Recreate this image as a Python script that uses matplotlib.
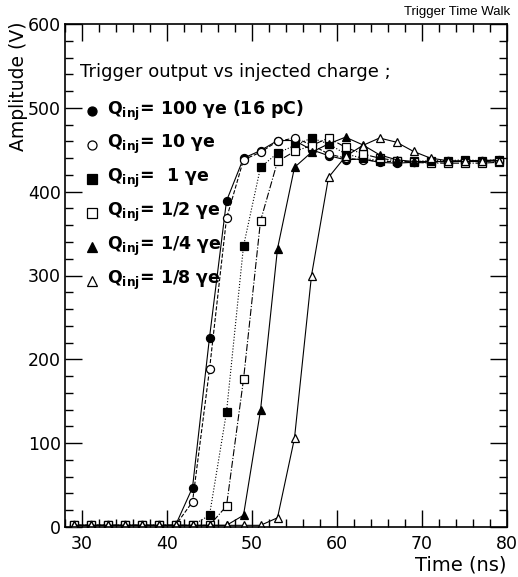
import matplotlib
matplotlib.use("Agg")
import matplotlib.pyplot as plt
from matplotlib.ticker import MultipleLocator

plt.rcParams['font.family'] = ['DejaVu Sans']
plt.rcParams['mathtext.fontset'] = 'dejavusans'

# Sampling times (ns)
time_ns = [29, 31, 33, 35, 37, 39, 41, 43, 45, 47, 49, 51, 53,
           55, 57, 59, 61, 63, 65, 67, 69, 71, 73, 75, 77, 79]

# Trigger output amplitude (V) for each injected charge
amp_100 = [2, 2, 2, 2, 2, 2, 2, 47, 226, 389, 440, 449, 461,
           461, 450, 443, 438, 439, 435, 434, 435, 436, 436, 437, 437, 438]
amp_10 = [2, 2, 2, 2, 2, 2, 2, 30, 188, 368, 438, 447, 460,
          464, 456, 445, 440, 438, 436, 436, 435, 435, 436, 436, 436, 437]
amp_1 = [2, 2, 2, 2, 2, 2, 2, 2, 14, 137, 335, 429, 446,
         455, 464, 457, 445, 440, 437, 436, 436, 437, 437, 438, 437, 438]
amp_1_2 = [2, 2, 2, 2, 2, 2, 2, 2, 2, 25, 176, 365, 436,
           448, 455, 464, 453, 445, 440, 437, 435, 434, 434, 434, 434, 435]
amp_1_4 = [2, 2, 2, 2, 2, 2, 2, 2, 2, 2, 14, 139, 332,
           429, 447, 457, 465, 456, 444, 438, 436, 436, 436, 436, 437, 437]
amp_1_8 = [2, 2, 2, 2, 2, 2, 2, 2, 2, 2, 2, 2, 11,
           106, 300, 417, 442, 455, 464, 459, 448, 440, 437, 436, 436, 437]

labels = [r"Q$_{\mathbf{inj}}$= 100 γe (16 pC)",
          r"Q$_{\mathbf{inj}}$= 10 γe",
          r"Q$_{\mathbf{inj}}$=  1 γe",
          r"Q$_{\mathbf{inj}}$= 1/2 γe",
          r"Q$_{\mathbf{inj}}$= 1/4 γe",
          r"Q$_{\mathbf{inj}}$= 1/8 γe"]

series = [amp_100, amp_10, amp_1, amp_1_2, amp_1_4, amp_1_8]
styles = [
    dict(marker='o', mfc='black', ls='-'),
    dict(marker='o', mfc='white', ls='--'),
    dict(marker='s', mfc='black', ls=':'),
    dict(marker='s', mfc='white', ls='-.'),
    dict(marker='^', mfc='black', ls='-'),
    dict(marker='^', mfc='white', ls='-'),
]

fig = plt.figure(figsize=(5.18, 5.77), dpi=100)
ax = fig.add_axes([65 / 518, 50 / 577, 442 / 518, 503 / 577])

for vals, st in zip(series, styles):
    ax.plot(time_ns, vals, color='black', lw=0.8, ls=st['ls'],
            marker=st['marker'], mfc=st['mfc'], mec='black', mew=0.9,
            ms=5.8)

ax.set_xlim(28, 80)
ax.set_ylim(0, 600)
ax.xaxis.set_major_locator(MultipleLocator(10))
ax.xaxis.set_minor_locator(MultipleLocator(2))
ax.yaxis.set_major_locator(MultipleLocator(100))
ax.yaxis.set_minor_locator(MultipleLocator(20))
ax.tick_params(which='both', direction='in', top=True, right=True,
               labelsize=12.5, width=1)
ax.tick_params(axis='y', pad=3)
ax.tick_params(axis='x', pad=6)
ax.tick_params(which='major', length=12)
ax.tick_params(which='minor', length=6)
for sp in ax.spines.values():
    sp.set_linewidth(1.2)

# Header line and legend entries drawn inside the frame
ax.text(0.033, 0.905, "Trigger output vs injected charge ;",
        transform=ax.transAxes, fontsize=13, va='center', ha='left')
for i, (lab, st) in enumerate(zip(labels, styles)):
    yy = 0.828 - i * 0.0676
    ax.plot([0.061], [yy], transform=ax.transAxes, ls='none',
            marker=st['marker'], mfc=st['mfc'], mec='black', mew=0.9,
            ms=6.5, color='black', clip_on=False)
    ax.text(0.095, yy, lab, transform=ax.transAxes, fontsize=12.5,
            fontweight='bold', va='center', ha='left')

fig.text(0.985, 0.979, "Trigger Time Walk", fontsize=9.5,
         family=['Liberation Sans', 'DejaVu Sans'], ha='right', va='center')
fig.text(0.035, 0.962, "Amplitude (V)", fontsize=13.5, rotation=90,
         ha='center', va='top')
fig.text(0.978, 0.021, "Time (ns)", fontsize=14, ha='right', va='center')

fig.savefig("out.png", dpi=100)
